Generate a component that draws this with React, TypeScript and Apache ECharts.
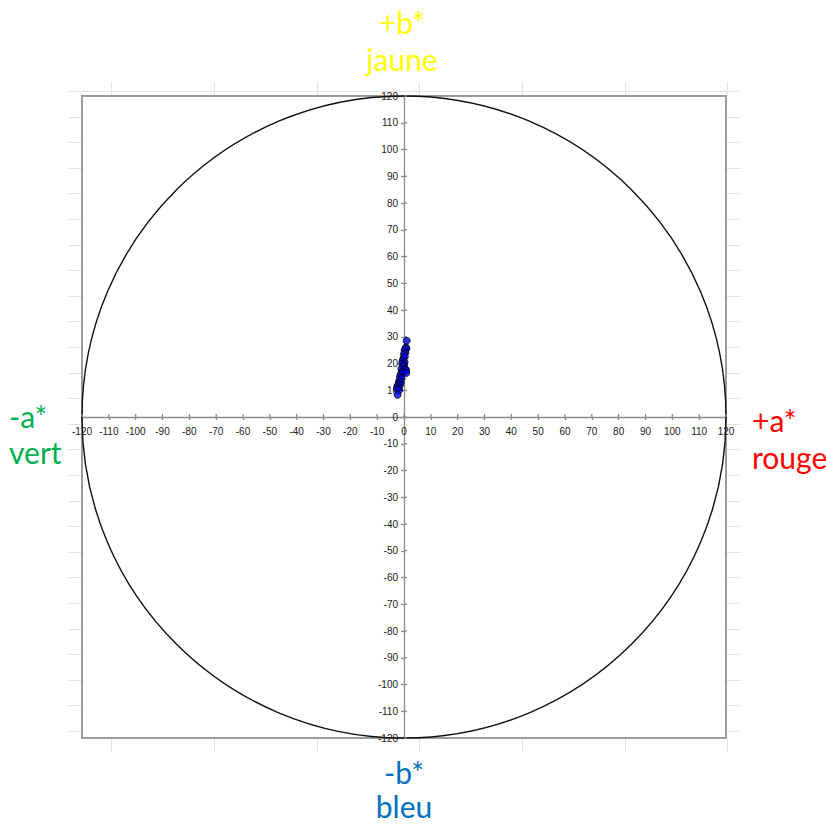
import React, { useEffect, useRef } from "react";
import * as echarts from "echarts";

const aValues = [1.0, 0.7, 0.9, 0.2, 0.5, 0.0, -0.2, 0.3, -0.5, 0.2, -0.7, 0.0, -0.3, -1.0, 0.4, -0.6, 0.8, -1.2, -0.5, -1.5, -0.9, -1.8, -1.2, -2.0, -1.5, -2.5, -2.0, -2.6, -1.8, -2.4, 0.9];
const bValues = [28.5, 26, 25.5, 25, 24, 23.5, 22, 22.5, 21, 20.5, 20, 19.5, 19, 18, 18, 17, 17.5, 16, 16.5, 15, 14.5, 13.5, 13, 12.5, 12, 11.5, 11, 10.5, 10, 8.3, 16.5];
const circle = [[0, 0, 120]];
const tickValues = [-120, -110, -100, -90, -80, -70, -60, -50, -40, -30, -20, -10, 0, 10, 20, 30, 40, 50, 60, 70, 80, 90, 100, 110, 120];
const axisMin = -120;
const axisMax = 120;
const axisStep = 10;

export default function App() {
  const ref = useRef<HTMLDivElement>(null);
  useEffect(() => {
    if (!ref.current) return;
    const chart = echarts.init(ref.current, null, { renderer: "svg" });
    const pts = aValues.map((a, i) => [a, bValues[i]]);
    const gridColor = "#e2e2e2";
    const graphics: any[] = [];
    // spreadsheet gridlines visible around the plot area
    for (let k = 0; k <= 25; k++) {
      const y = Math.round(91 + k * 25.6) + 0.5;
      if (k === 0) {
        graphics.push({ type: "line", shape: { x1: 68, y1: y, x2: 741, y2: y }, style: { stroke: gridColor, lineWidth: 1 }, silent: true, z: -1 });
      } else {
        graphics.push({ type: "line", shape: { x1: 68, y1: y, x2: 82, y2: y }, style: { stroke: gridColor, lineWidth: 1 }, silent: true, z: -1 });
        graphics.push({ type: "line", shape: { x1: 727, y1: y, x2: 741, y2: y }, style: { stroke: gridColor, lineWidth: 1 }, silent: true, z: -1 });
      }
    }
    const cols = [111.5, 214.5, 317.5, 419.5, 522.5, 625.5, 727.5];
    cols.forEach((x) => {
      graphics.push({ type: "line", shape: { x1: x, y1: 82, x2: x, y2: 96 }, style: { stroke: gridColor, lineWidth: 1 }, silent: true, z: -1 });
      graphics.push({ type: "line", shape: { x1: x, y1: 739, x2: x, y2: 752 }, style: { stroke: gridColor, lineWidth: 1 }, silent: true, z: -1 });
    });
    const font = "Lato, 'Liberation Sans', sans-serif";
    const addText = (text: string, x: number, y: number, color: string, align: string) => {
      graphics.push({ type: "text", x, y, style: { text, fill: color, font: `30px ${font}`, textAlign: align, textVerticalAlign: "middle" }, z: 10 });
    };
    addText("+b*", 402, 22, "#ffff00", "center");
    addText("jaune", 402, 59, "#ffff00", "center");
    addText("-b*", 404, 772, "#0070c0", "center");
    addText("bleu", 404, 806, "#0070c0", "center");
    addText("-a*", 9, 416, "#00b050", "left");
    addText("vert", 9, 452, "#00b050", "left");
    addText("+a*", 752, 420, "#ff0000", "left");
    addText("rouge", 752, 457, "#ff0000", "left");

    const tickColor = "#8a8a8a";
    const axisLineStyle = { color: tickColor, width: 1.3 };
    const labelFont = "10px 'Liberation Sans', sans-serif";
    const baseAxis = {
      type: "value" as const,
      min: axisMin,
      max: axisMax,
      interval: axisStep,
      splitLine: { show: false },
      axisLabel: { show: false },
    };
    chart.setOption({
      animation: false,
      backgroundColor: "#ffffff",
      graphic: graphics,
      grid: {
        left: 82,
        top: 96,
        width: 644,
        height: 642,
        show: true,
        borderColor: "#9c9c9c",
        borderWidth: 2,
        backgroundColor: "#ffffff",
      },
      xAxis: {
        ...baseAxis,
        axisLine: { onZero: true, lineStyle: axisLineStyle },
        axisTick: { show: true, inside: false, length: 3, lineStyle: axisLineStyle },
      },
      yAxis: {
        ...baseAxis,
        axisLine: { onZero: true, lineStyle: axisLineStyle },
        axisTick: { show: true, inside: false, length: 3, lineStyle: axisLineStyle },
      },
      series: [
        {
          type: "custom",
          clip: false,
          silent: true,
          data: circle,
          renderItem: (params: any, api: any) => {
            const c = api.coord([api.value(0), api.value(1)]);
            const s = api.size([api.value(2), api.value(2)]);
            return {
              type: "ellipse",
              shape: { cx: c[0], cy: c[1], rx: s[0], ry: s[1] },
              style: { fill: "none", stroke: "#111111", lineWidth: 1.4 },
            };
          },
          z: 3,
        },
        {
          // crossing tick marks' inner halves and the tick labels along the zero lines
          type: "custom",
          clip: false,
          silent: true,
          data: tickValues.map((v) => [v]),
          renderItem: (params: any, api: any) => {
            const v = api.value(0);
            const px = api.coord([v, 0]);
            const py = api.coord([0, v]);
            return {
              type: "group",
              children: [
                { type: "line", shape: { x1: px[0], y1: px[1], x2: px[0], y2: px[1] - 3 }, style: { stroke: tickColor, lineWidth: 1.3 } },
                { type: "line", shape: { x1: py[0], y1: py[1], x2: py[0] + 3, y2: py[1] }, style: { stroke: tickColor, lineWidth: 1.3 } },
                { type: "text", x: px[0], y: px[1] + 9, style: { text: String(v), font: labelFont, fill: "#1a1a1a", textAlign: "center", textVerticalAlign: "top" } },
                { type: "text", x: py[0] - 6, y: py[1], style: { text: String(v), font: labelFont, fill: "#1a1a1a", textAlign: "right", textVerticalAlign: "middle" } },
              ],
            };
          },
          z: 4,
        },
        {
          type: "scatter",
          data: pts,
          symbol: "circle",
          symbolSize: 7,
          itemStyle: { color: "#0000e6", borderColor: "#000000", borderWidth: 1 },
          z: 5,
        },
      ],
    });
    return () => chart.dispose();
  }, []);
  return <div ref={ref} style={{ position: "absolute", left: 0, top: 0, width: 826, height: 824 }} />;
}
